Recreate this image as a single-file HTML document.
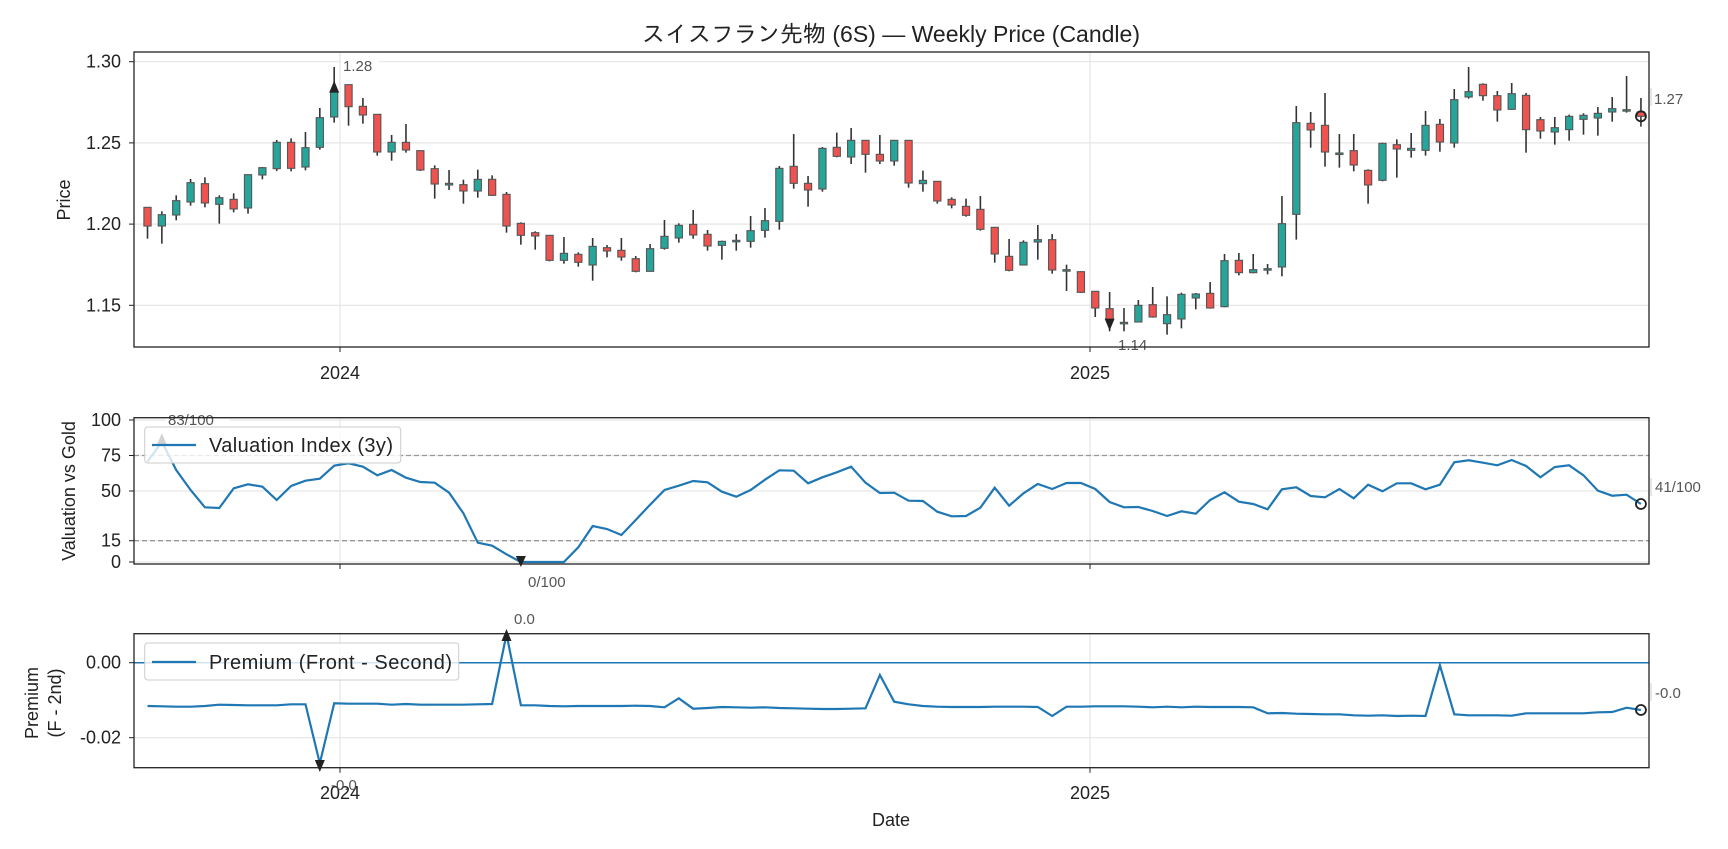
<!DOCTYPE html>
<html><head><meta charset="utf-8"><style>
html,body{margin:0;padding:0;background:#fff;}
svg{display:block;font-family:"Liberation Sans","IPAGothic","Noto Sans CJK JP",sans-serif;}
</style></head><body>
<svg id="s" width="1728" height="849" viewBox="0 0 1728 849" xmlns="http://www.w3.org/2000/svg"></svg>
<script>
const NS="http://www.w3.org/2000/svg";const S=document.getElementById('s');
function el(t,a,txt){const e=document.createElementNS(NS,t);for(const k in a)e.setAttribute(k,a[k]);if(txt!==undefined)e.textContent=txt;S.appendChild(e);return e;}
const L=134,R=1649;const FT=18,FA=15;
const X=k=>147.5+14.36*k;
el('text',{x:891,y:42,'font-size':23,'text-anchor':'middle',fill:'#222'},'スイスフラン先物 (6S) — Weekly Price (Candle)');
const T1=52,B1=347;
[[61.7,'1.30'],[142.9,'1.25'],[224.1,'1.20'],[305.3,'1.15']].forEach(([y,t])=>{
 el('line',{x1:L,x2:R,y1:y,y2:y,stroke:'#e6e6e6','stroke-width':1.2});
 el('line',{x1:L-5,x2:L,y1:y,y2:y,stroke:'#222'});
 el('text',{x:L-13,y:y+6,'font-size':FT,'text-anchor':'end',fill:'#222'},t);});
[340,1090].forEach(x=>{el('line',{x1:x,x2:x,y1:T1,y2:B1,stroke:'#e6e6e6','stroke-width':1.2});
 el('line',{x1:x,x2:x,y1:B1,y2:B1+5,stroke:'#222'});});
el('text',{x:340,y:379,'font-size':FT,'text-anchor':'middle',fill:'#222'},'2024');
el('text',{x:1090,y:379,'font-size':FT,'text-anchor':'middle',fill:'#222'},'2025');
el('text',{x:0,y:0,'font-size':FT,'text-anchor':'middle',fill:'#222',transform:'translate(70,200) rotate(-90)'},'Price');
const C=[
[134,466,560,466,522,'r'],[134,478,575,488,522,'g'],[134,430,505,446,489,'g'],[134,381,461,392,450,'g'],[134,376,466,395,453,'r'],
[134,430,515,437,457,'g'],[134,424,481,442,471,'r'],[134,367,485,368,468,'g'],[134,345,382,347,369,'g'],[134,264,357,271,350,'g'],
[134,259,358,271,349,'r'],[134,240,355,287,345,'g'],[134,168,293,197,286,'g'],[134,45,212,118,195,'g'],[134,98,221,98,164,'r'],
[134,138,215,163,189,'r'],[134,186,311,187,300,'r'],[134,249,326,271,300,'g'],[134,216,302,271,294,'r'],[134,295,357,296,354,'r'],
[134,340,440,350,396,'r'],[134,354,414,394,399,'g'],[134,383,455,398,417,'r'],[134,353,437,382,417,'g'],[134,370,432,382,430,'r'],
[134,420,542,427,522,'r'],[134,511,578,514,550,'r'],
[514,538,593,542,552,'r'],[514,549,628,550,625,'r'],[514,555,635,604,625,'g'],[514,601,644,607,631,'r'],[514,558,686,583,639,'g'],
[514,579,616,587,597,'r'],[514,558,626,595,615,'r'],[514,612,661,620,658,'r'],[514,576,658,590,658,'g'],[514,504,593,553,589,'g'],
[514,514,572,520,558,'g'],[514,474,560,517,549,'r'],[514,534,596,547,582,'r'],[514,566,623,568,580,'g'],[514,546,596,565,568,'g'],
[514,492,587,536,568,'g'],[514,468,557,506,535,'g'],[514,342,533,349,508,'g'],[514,246,410,343,394,'r'],[514,372,464,394,414,'r'],
[514,285,419,289,411,'g'],[514,242,316,286,313,'r'],[514,228,336,265,315,'g'],[514,265,362,265,307,'r'],[514,249,336,307,327,'r'],
[514,264,341,265,327,'g'],
[894,265,407,265,393,'r'],[894,356,419,385,395,'g'],[894,388,455,388,447,'r'],[894,436,469,442,459,'r'],[894,440,494,463,490,'r'],
[894,432,536,472,532,'r'],[894,525,632,526,606,'r'],[894,561,658,613,655,'r'],[894,565,639,571,639,'g'],[894,519,623,563,570,'g'],
[894,546,665,563,654,'r'],[894,638,717,653,657,'g'],[894,658,723,659,721,'r'],[894,718,795,718,768,'r'],[894,720,838,770,805,'r'],
[894,768,838,811,815,'g'],[894,744,810,760,810,'g'],[894,705,797,758,795,'r'],[894,733,848,788,815,'g'],[894,722,829,727,801,'g'],
[894,723,772,726,738,'g'],[894,690,770,724,768,'r'],[894,606,766,626,764,'g'],[894,603,670,625,662,'r'],[894,606,664,653,662,'g'],
[894,636,667,650,653,'g'],[894,432,673,515,645,'g'],
[1270,162,563,212,487,'g'],[1270,180,287,214,234,'r'],[1270,123,344,220,300,'r'],[1270,246,347,303,306,'g'],[1270,246,358,296,339,'r'],
[1270,352,455,355,399,'r'],[1270,272,388,274,385,'g'],[1270,262,377,278,291,'r'],[1270,243,317,289,295,'g'],[1270,177,311,220,295,'g'],
[1270,201,299,217,270,'r'],[1270,111,287,143,273,'g'],[1270,45,140,119,135,'g'],[1270,94,146,97,131,'r'],[1270,117,209,131,174,'r'],
[1270,93,174,125,172,'g'],[1270,123,302,130,233,'r'],[1270,195,260,203,237,'r'],[1270,195,278,227,240,'g'],[1270,188,266,193,233,'g'],
[1270,184,248,190,202,'g'],[1270,165,251,184,198,'g'],[1270,135,209,170,180,'g'],[1270,72,182,173,177,'g'],[1270,138,224,180,193,'r']];
const Y1=z=>52+z/3;
C.forEach((c,k)=>{const x=X(k);
 el('line',{x1:x,x2:x,y1:Y1(c[1]),y2:Y1(c[2]),stroke:'#333','stroke-width':1.6});
 let t=Y1(c[3]),b=Y1(c[4]);if(b-t<1.5){b=t+1.5;}
 el('rect',{x:x-3.6,y:t,width:7.2,height:b-t,fill:c[5]=='g'?'#26a69a':'#ef5350',stroke:'#555','stroke-width':1.1});});
el('path',{d:`M${X(13)-5},${Y1(110)+4} L${X(13)+5},${Y1(110)+4} L${X(13)},${Y1(110)-8} Z`,fill:'#222'});
el('rect',{x:341,y:56,width:38,height:18,fill:'#fff'});
el('text',{x:343,y:71,'font-size':FA,fill:'#555'},'1.28');
el('path',{d:`M${X(67)-5},${Y1(812)-4} L${X(67)+5},${Y1(812)-4} L${X(67)},${Y1(812)+8} Z`,fill:'#222'});
el('rect',{x:1116,y:335,width:38,height:18,fill:'#fff'});
el('text',{x:1118,y:350,'font-size':FA,fill:'#555'},'1.14');
el('circle',{cx:X(104),cy:Y1(193),r:5,fill:'none',stroke:'#222','stroke-width':1.8});
el('line',{x1:1651,x2:1651,y1:88,y2:106,stroke:'#ccc'});
el('text',{x:1654,y:104,'font-size':FA,fill:'#555'},'1.27');
el('rect',{x:L,y:T1,width:R-L,height:B1-T1,fill:'none',stroke:'#222','stroke-width':1.3});
const T2=417.7,B2=564;const V=v=>562-v*1.42;
[[100,'100'],[75,'75'],[50,'50'],[15,'15'],[0,'0']].forEach(([v,t])=>{const y=V(v);
 el('line',{x1:L,x2:R,y1:y,y2:y,stroke:'#e6e6e6','stroke-width':1.2});
 el('line',{x1:L-5,x2:L,y1:y,y2:y,stroke:'#222'});
 el('text',{x:L-13,y:y+6,'font-size':FT,'text-anchor':'end',fill:'#222'},t);});
[340,1090].forEach(x=>{el('line',{x1:x,x2:x,y1:T2,y2:B2,stroke:'#e6e6e6','stroke-width':1.2});
 el('line',{x1:x,x2:x,y1:B2,y2:B2+5,stroke:'#222'});});
[75,15].forEach(v=>el('line',{x1:L,x2:R,y1:V(v),y2:V(v),stroke:'#999','stroke-width':1.3,'stroke-dasharray':'5,3'}));
el('text',{x:0,y:0,'font-size':FT,'text-anchor':'middle',fill:'#222',transform:'translate(75,491) rotate(-90)'},'Valuation vs Gold');
const va=[155,95,180,240,292,294,235,223,230,270,228,212,206,167,160,170,196,180,203,216,218,248,310,398,407,433,456,456,456,456,412,348,357,375,330,284,240,227,213,217,245,260,240,209,181,182,220,202,187,170,218,249,
248,272,273,305,319,318,293,233,287,250,222,237,219,219,237,276,292,291,303,318,304,311,270,247,275,282,298,238,232,258,262,237,265,224,244,220,220,238,224,157,151,158,166,150,168,202,171,166,196,242,257,254,282];
el('polyline',{points:va.map((z,k)=>X(k).toFixed(1)+','+(410+z/3).toFixed(1)).join(' '),fill:'none',stroke:'#1f77b4','stroke-width':2.2});
el('path',{d:`M${X(1)-5},445 L${X(1)+5},445 L${X(1)},433 Z`,fill:'#222'});
el('path',{d:`M${X(26)-5},556 L${X(26)+5},556 L${X(26)},567 Z`,fill:'#222'});
el('rect',{x:166,y:411,width:64,height:17,fill:'#fff'});
el('text',{x:168,y:425,'font-size':FA,fill:'#555'},'83/100');
el('text',{x:528,y:587,'font-size':FA,fill:'#555'},'0/100');
el('circle',{cx:X(104),cy:504,r:5,fill:'none',stroke:'#222','stroke-width':1.8});
el('line',{x1:1651,x2:1651,y1:478,y2:496,stroke:'#ccc'});
el('text',{x:1655,y:492,'font-size':FA,fill:'#555'},'41/100');
el('rect',{x:144.7,y:427,width:256,height:36,rx:3,fill:'#fff','fill-opacity':0.8,stroke:'#ccc'});
el('line',{x1:152,x2:196,y1:445,y2:445,stroke:'#1f77b4','stroke-width':2.2});
el('text',{x:209,y:452,'font-size':20,fill:'#222',textLength:184},'Valuation Index (3y)');
el('rect',{x:L,y:T2,width:R-L,height:B2-T2,fill:'none',stroke:'#222','stroke-width':1.3});
const T3=633.7,B3=767.7;
[[662.7,'0.00'],[737.7,'-0.02']].forEach(([y,t])=>{
 el('line',{x1:L,x2:R,y1:y,y2:y,stroke:'#e6e6e6','stroke-width':1.2});
 el('line',{x1:L-5,x2:L,y1:y,y2:y,stroke:'#222'});
 el('text',{x:L-13,y:y+6,'font-size':FT,'text-anchor':'end',fill:'#222'},t);});
[340,1090].forEach(x=>{el('line',{x1:x,x2:x,y1:T3,y2:B3,stroke:'#e6e6e6','stroke-width':1.2});
 el('line',{x1:x,x2:x,y1:B3,y2:B3+5,stroke:'#222'});});
el('line',{x1:L,x2:R,y1:662.7,y2:662.7,stroke:'#1f77b4','stroke-width':1.5});
el('text',{x:0,y:0,'font-size':FT,'text-anchor':'middle',fill:'#222',transform:'translate(38,703) rotate(-90)'},'Premium');
el('text',{x:0,y:0,'font-size':FT,'text-anchor':'middle',fill:'#222',transform:'translate(61,703) rotate(-90)'},'(F - 2nd)');
const pa=[318,319,320,320,318,314,315,316,316,316,313,313,490,310,311,311,311,314,312,314,314,314,314,313,312,103,316,316,318,319,318,318,318,318,317,318,322,295,326,324,321,322,323,322,324,325,326,327,327,326,325,225,
305,313,318,320,321,321,321,320,320,320,321,348,320,320,319,319,319,320,322,320,322,320,321,321,321,322,340,339,341,342,343,343,346,347,346,348,347,348,196,343,346,346,346,347,340,340,340,340,340,337,336,323,330];
el('polyline',{points:pa.map((z,k)=>X(k).toFixed(1)+','+(600+z/3).toFixed(1)).join(' '),fill:'none',stroke:'#1f77b4','stroke-width':2.2});
el('path',{d:`M${X(25)-5},641 L${X(25)+5},641 L${X(25)},629 Z`,fill:'#222'});
el('path',{d:`M${X(12)-5},760 L${X(12)+5},760 L${X(12)},772 Z`,fill:'#222'});
el('text',{x:340,y:799,'font-size':FT,'text-anchor':'middle',fill:'#222'},'2024');
el('text',{x:1090,y:799,'font-size':FT,'text-anchor':'middle',fill:'#222'},'2025');
el('text',{x:514,y:624,'font-size':FA,fill:'#555'},'0.0');
el('text',{x:331,y:790,'font-size':FA,fill:'#555'},'-0.0');
el('circle',{cx:X(104),cy:710,r:5,fill:'none',stroke:'#222','stroke-width':1.8});
el('line',{x1:1651,x2:1651,y1:683,y2:701,stroke:'#ccc'});
el('text',{x:1655,y:698,'font-size':FA,fill:'#555'},'-0.0');
el('text',{x:891,y:826,'font-size':FT,'text-anchor':'middle',fill:'#222'},'Date');
el('rect',{x:144.7,y:643,width:314,height:37,rx:3,fill:'#fff','fill-opacity':0.8,stroke:'#ccc'});
el('line',{x1:152,x2:196,y1:662,y2:662,stroke:'#1f77b4','stroke-width':2.2});
el('text',{x:209,y:669,'font-size':20,fill:'#222',textLength:243},'Premium (Front - Second)');
el('rect',{x:L,y:T3,width:R-L,height:B3-T3,fill:'none',stroke:'#222','stroke-width':1.3});
</script>
</body></html>
